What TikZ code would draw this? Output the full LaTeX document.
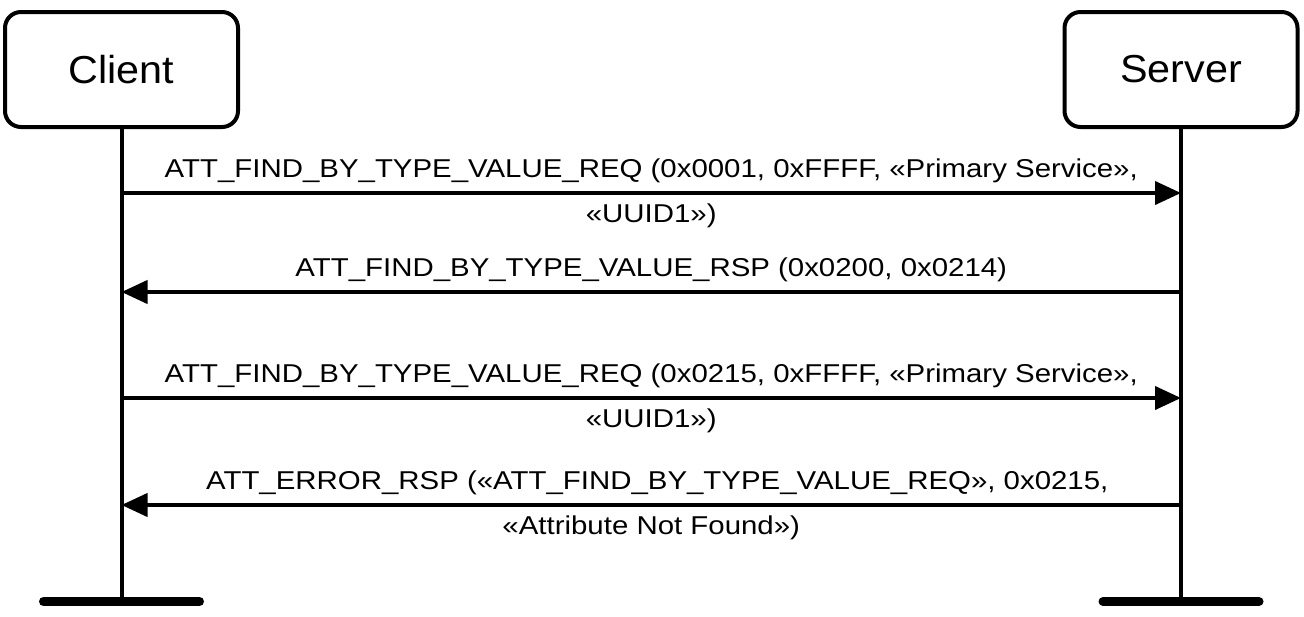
\documentclass[tikz,border=0pt]{standalone}
\usepackage{fontspec}
\setmainfont{Liberation Sans}
\newfontfamily\labfont[FakeStretch=1.14]{Liberation Sans}
\newfontfamily\actfont[FakeStretch=1.06]{Liberation Sans}
\usetikzlibrary{arrows.meta}
\begin{document}
\begin{tikzpicture}[x=0.5pt,y=-0.5pt,
 actor/.style={draw,line width=2pt,rounded corners=8pt,minimum width=116.5pt,minimum height=57.5pt,inner sep=0pt,font=\actfont\fontsize{19.5}{23}\selectfont},
 life/.style={line width=2pt},
 foot/.style={line width=4.5pt,line cap=round},
 msg/.style={line width=2pt,-{Triangle[length=13pt,width=11.5pt]}},
 lab/.style={font=\labfont\fontsize{12.9}{16}\selectfont,anchor=base,inner sep=0pt}]
\useasboundingbox (0,0) rectangle (1304,616);
\node[actor] (client) at (121.5,69.5) {Client};
\node[actor] (server) at (1181,69.5) {Server};
\coordinate (cend) at (121.5,601.5);
\coordinate (send) at (1181,601.5);
\draw[life] (client.south) -- (cend);
\draw[life] (server.south) -- (send);
\draw[foot] (cend) ++(-78,0) -- ++(156,0);
\draw[foot] (send) ++(-78,0) -- ++(156,0);
\coordinate (c1) at (121.5,193); \coordinate (s1) at (1181,193);
\coordinate (c2) at (121.5,292); \coordinate (s2) at (1181,292);
\coordinate (c3) at (121.5,398); \coordinate (s3) at (1181,398);
\coordinate (c4) at (121.5,505); \coordinate (s4) at (1181,505);
\draw[msg] (c1) -- (s1)
  node[lab,midway,yshift=7.6pt] {ATT\_FIND\_BY\_TYPE\_VALUE\_REQ (0x0001, 0xFFFF, «Primary Service»,}
  node[lab,midway,yshift=-14.6pt] {«UUID1»)};
\draw[msg] (s2) -- (c2)
  node[lab,midway,yshift=7.6pt] {ATT\_FIND\_BY\_TYPE\_VALUE\_RSP (0x0200, 0x0214)};
\draw[msg] (c3) -- (s3)
  node[lab,midway,yshift=7.6pt] {ATT\_FIND\_BY\_TYPE\_VALUE\_REQ (0x0215, 0xFFFF, «Primary Service»,}
  node[lab,midway,yshift=-14.6pt] {«UUID1»)};
\draw[msg] (s4) -- (c4)
  node[lab,midway,yshift=7.6pt,xshift=3pt] {ATT\_ERROR\_RSP («ATT\_FIND\_BY\_TYPE\_VALUE\_REQ», 0x0215,}
  node[lab,midway,yshift=-14.6pt] {«Attribute Not Found»)};
\end{tikzpicture}
\end{document}
